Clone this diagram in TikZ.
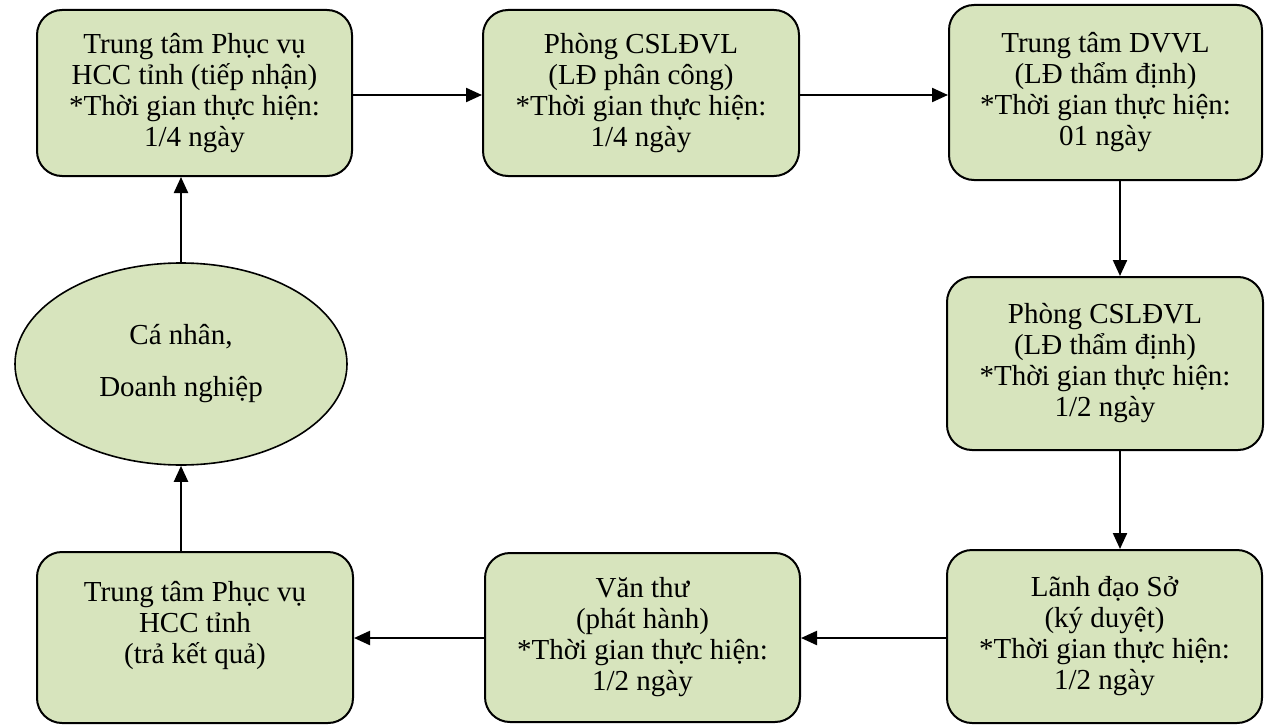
\documentclass[tikz,border=0pt]{standalone}
\usepackage{fontspec}
\setmainfont{Liberation Serif}
\usetikzlibrary{arrows.meta,shapes.geometric}
\definecolor{boxgreen}{HTML}{D7E4BD}
\begin{document}
\begin{tikzpicture}[x=1pt,y=-1pt,
  stepbox/.style={draw=black, line width=2pt, fill=boxgreen, rounded corners=25pt,
    align=center, inner sep=0pt, font=\fontsize{29}{31}\selectfont},
  ell/.style={ellipse, draw=black, line width=1.6pt, fill=boxgreen, inner sep=0pt,
    align=center, font=\fontsize{29}{52}\selectfont},
  arr/.style={line width=2.2pt, -{Triangle[length=16pt,width=14pt]}}]
\useasboundingbox (0,0) rectangle (1266,725);
\node[stepbox, minimum width=315pt, minimum height=166pt] (b1) at (194.5,93)
  {Trung tâm Phục vụ\\HCC tỉnh (tiếp nhận)\\*Thời gian thực hiện:\\1/4 ngày};
\node[stepbox, minimum width=316pt, minimum height=166pt] (b2) at (641,93)
  {Phòng CSLĐVL\\(LĐ phân công)\\*Thời gian thực hiện:\\1/4 ngày};
\node[stepbox, minimum width=313pt, minimum height=175pt] (b3) at (1105.5,92.5)
  {Trung tâm DVVL\\(LĐ thẩm định)\\*Thời gian thực hiện:\\01 ngày};
\node[stepbox, minimum width=316pt, minimum height=173pt] (b4) at (1105,363.5)
  {Phòng CSLĐVL\\(LĐ thẩm định)\\*Thời gian thực hiện:\\1/2 ngày};
\node[stepbox, minimum width=315pt, minimum height=173pt] (b5) at (1104.5,636.5)
  {Lãnh đạo Sở\\(ký duyệt)\\*Thời gian thực hiện:\\1/2 ngày};
\node[stepbox, minimum width=315pt, minimum height=169pt] (b6) at (642.5,637.5)
  {Văn thư\\(phát hành)\\*Thời gian thực hiện:\\1/2 ngày};
\node[stepbox, minimum width=316pt, minimum height=171pt] (b7) at (195,637.5)
  {Trung tâm Phục vụ\\HCC tỉnh\\(trả kết quả)\\~};
\node[ell, minimum width=332pt, minimum height=202pt] (e) at (181,364)
  {Cá nhân,\\Doanh nghiệp};
\draw[arr] (b1.east |- 0,95) -- (b2.west |- 0,95);
\draw[arr] (b2.east |- 0,95) -- (b3.west |- 0,95);
\draw[arr] (b3.south -| 1120,0) -- (b4.north -| 1120,0);
\draw[arr] (b4.south -| 1120,0) -- (b5.north -| 1120,0);
\draw[arr] (b5.west |- 0,638) -- (b6.east |- 0,638);
\draw[arr] (b6.west |- 0,638) -- (b7.east |- 0,638);
\draw[arr] (e.south |- b7.north) -- (e.south);
\draw[arr] (e.north) -- (e.north |- b1.south);
\end{tikzpicture}
\end{document}
